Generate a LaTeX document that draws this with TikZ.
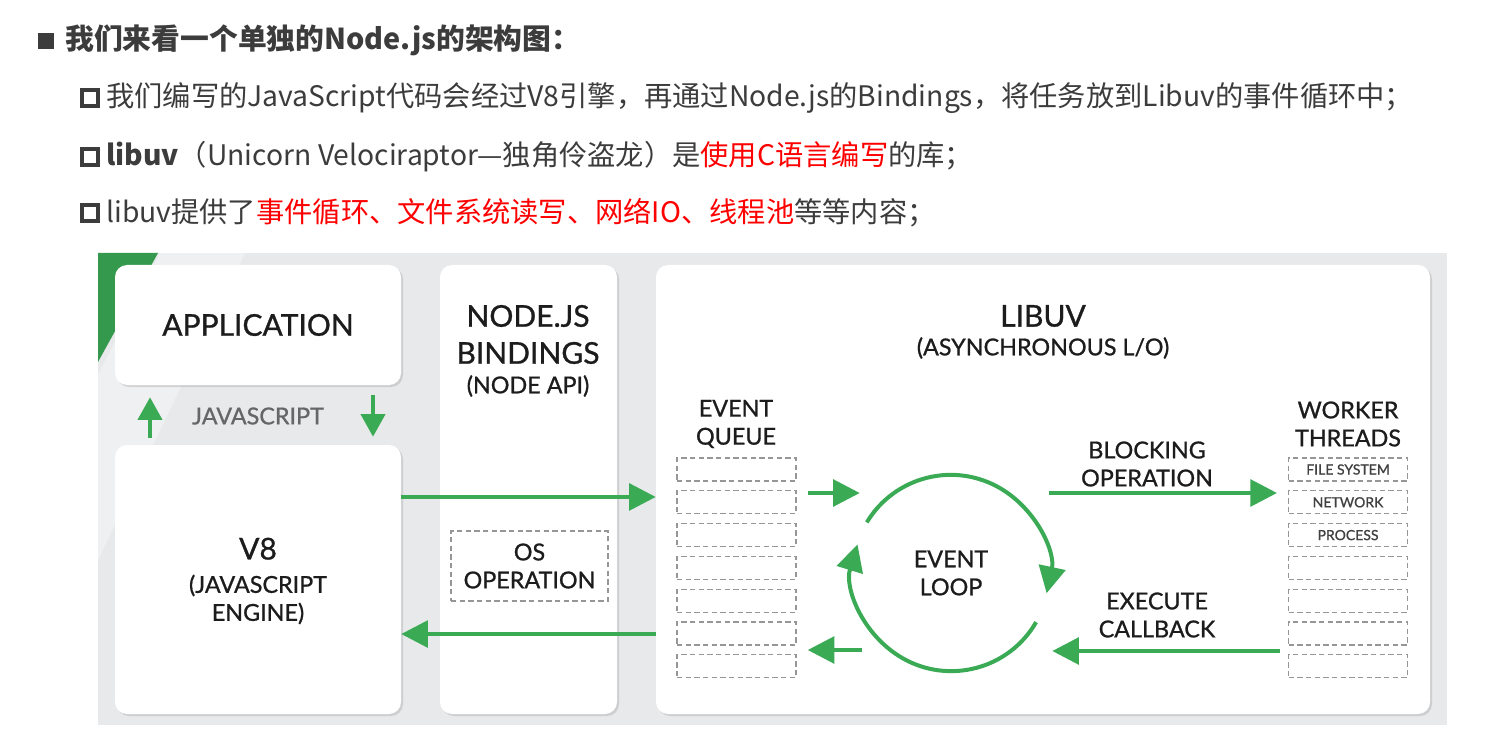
\documentclass[tikz,border=0pt]{standalone}
\usepackage{fontspec}
\setmainfont{Noto Sans CJK SC}
\newfontfamily\dgfont{Lato}[FakeBold=0.9]
\usetikzlibrary{arrows.meta,shadows}
\definecolor{jsgreen}{RGB}{58,170,85}
\definecolor{txtgray}{RGB}{60,60,60}
\definecolor{bggray}{RGB}{231,233,234}
\definecolor{dashgray}{RGB}{150,150,150}
\definecolor{inkblack}{RGB}{28,28,28}
\newcommand{\fnTop}{\fontsize{21.2pt}{25pt}\selectfont}
\newcommand{\fnHead}{\fontsize{21.6pt}{25pt}\selectfont}
\newcommand{\fnBig}{\dgfont\fontsize{22.5pt}{27.75pt}\selectfont}
\newcommand{\fnMid}{\dgfont\fontsize{17.5pt}{21pt}\selectfont}
\newcommand{\fnSml}{\dgfont\fontsize{10.5pt}{12pt}\selectfont}
\newcommand{\Hl}[1]{\textcolor{red}{#1}}

\begin{document}
\begin{tikzpicture}[x=0.75pt,y=-0.75pt,
    panel/.style={fill=white,rounded corners=9pt,
      drop shadow={shadow xshift=1.5pt,shadow yshift=-1.5pt,opacity=0.25}},
    slot/.style={draw=dashgray,dash pattern=on 4pt off 2.5pt,line width=0.8pt,
      minimum width=89.25pt,minimum height=17.25pt,inner sep=0pt,text=black!75,font=\fnSml},
    flow/.style={draw=jsgreen,line width=3pt,-{Triangle[length=20pt,width=20pt]}},
    lbl/.style={align=center,text=inkblack,inner sep=0pt,font=\fnMid}]
  \useasboundingbox[fill=white] (0,0) rectangle (1508,748);

  % intro text
  \node[fill=txtgray,minimum size=12pt,inner sep=0pt] (Bul0) at (46,41) {};
  \node[anchor=west,text=txtgray,inner sep=0pt] (Ttl0) at (65,40)
    {\fnHead\bfseries 我们来看一个单独的Node.js的架构图：};
  \foreach \n/\y in {1/98,2/157,3/213}
    \node[draw=txtgray,line width=3pt,minimum size=12pt,inner sep=0pt] (Bul\n) at (90,\y) {};
  \node[anchor=west,text=txtgray,inner sep=0pt] (Ttl1) at (106,98)
    {\fnTop 我们编写的JavaScript代码会经过V8引擎，再通过Node.js的Bindings，将任务放到Libuv的事件循环中；};
  \node[anchor=west,text=txtgray,inner sep=0pt] (Ttl2) at (106,157)
    {\fnTop\textbf{libuv}（Unicorn Velociraptor—独角伶盗龙）是\Hl{使用C语言编写}的库；};
  \node[anchor=west,text=txtgray,inner sep=0pt] (Ttl3) at (106,213)
    {\fnTop libuv提供了\Hl{事件循环、文件系统读写、网络IO、线程池}等等内容；};

  % backdrop
  \fill[bggray] (98,253) rectangle (1447,725);
  \fill[white,opacity=0.35] (160,253) -- (245,253) -- (98,560) -- (98,375) -- cycle;
  \fill[jsgreen!90!black] (98,253) -- (158,253) -- (98,362) -- cycle;

  % boxes
  \node[panel,minimum width=214.5pt,minimum height=90pt] (Appl) at (258,325) {};
  \node[panel,minimum width=214.5pt,minimum height=201.75pt] (Veng) at (258,579.5) {};
  \node[panel,minimum width=132.75pt,minimum height=336.75pt] (Bind) at (528.5,489.5) {};
  \node[panel,minimum width=580.5pt,minimum height=336.75pt] (Libu) at (1043,489.5) {};

  \node[lbl,font=\fnBig] (ApplT) at (Appl) {APPLICATION};
  \node[lbl] (VengT) at (258,581) {{\fnBig V8}\\[4pt](JAVASCRIPT\\ENGINE)};
  \node[lbl,font=\fnBig] (BindT) at (528,334.5) {NODE.JS\\BINDINGS};
  \node[lbl] (BindS) at (528,386) {(NODE API)};
  \node[lbl,font=\fnBig] (LibuT) at (1043,316) {LIBUV};
  \node[lbl] (LibuS) at (1043,348) {(ASYNCHRONOUS L/O)};
  \node[lbl,text=black!60] (Jscr) at (258,416) {JAVASCRIPT};

  \node[draw=dashgray,dash pattern=on 4pt off 2.5pt,line width=0.8pt,minimum width=117.75pt,
    minimum height=52.5pt,lbl] (Osop) at (529.5,566) {OS\\OPERATION};

  % queues
  \node[lbl] (QueuT) at (736,424) {EVENT\\QUEUE};
  \foreach \i in {1,...,7}
    \node[slot] (Queu\i) at (736.5,{469.5+32.8*(\i-1)}) {};
  \node[lbl] (WorkT) at (1348,424) {WORKER\\THREADS};
  \foreach \i/\t in {1/FILE SYSTEM,2/NETWORK,3/PROCESS,4/,5/,6/,7/}
    \node[slot] (Work\i) at (1348,{469.5+32.8*(\i-1)}) {\t};

  \node[lbl] (BlckT) at (1147,464) {BLOCKING\\OPERATION};
  \node[lbl] (ExecT) at (1157,615) {EXECUTE\\CALLBACK};

  % event loop
  \node[circle,minimum size=147pt,lbl] (Loop) at (951,573) {EVENT\\LOOP};
  \draw[flow] (Loop.149) arc[start angle=149,end angle=-12,radius=73.5pt];
  \draw[flow] (Loop.-30) arc[start angle=-30,end angle=-197,radius=73.5pt];

  % arrows
  \draw[flow,-{Triangle[length=17pt,width=18pt]},shorten <=5pt,shorten >=9pt]
    ([xshift=-81pt]Veng.north) -- ([xshift=-81pt]Appl.south);
  \draw[flow,-{Triangle[length=17pt,width=18pt]},shorten <=7.5pt,shorten >=6pt]
    ([xshift=86.25pt]Appl.south) -- ([xshift=86.25pt]Veng.north);
  \draw[flow] ([yshift=61.9pt]Veng.east) -- ([yshift=61.9pt]Veng.east -| Libu.west);
  \draw[flow] ([yshift=-40.9pt]Veng.east -| Libu.west) -- ([yshift=-40.9pt]Veng.east);
  \draw[flow] ([xshift=-33.75pt,yshift=60pt]Loop.west) -- ([xshift=5.25pt,yshift=60pt]Loop.west);
  \draw[flow] ([xshift=6.75pt,yshift=-57.75pt]Loop.west) -- ([xshift=-33.75pt,yshift=-57.75pt]Loop.west);
  \draw[flow] ([yshift=60pt]Loop.east) -- ([xshift=-8.25pt,yshift=60pt]Work1.west |- Loop.east);
  \draw[flow] ([xshift=-6pt,yshift=-58.5pt]Work1.west |- Loop.east) -- ([xshift=2.25pt,yshift=-58.5pt]Loop.east);
\end{tikzpicture}
\end{document}
